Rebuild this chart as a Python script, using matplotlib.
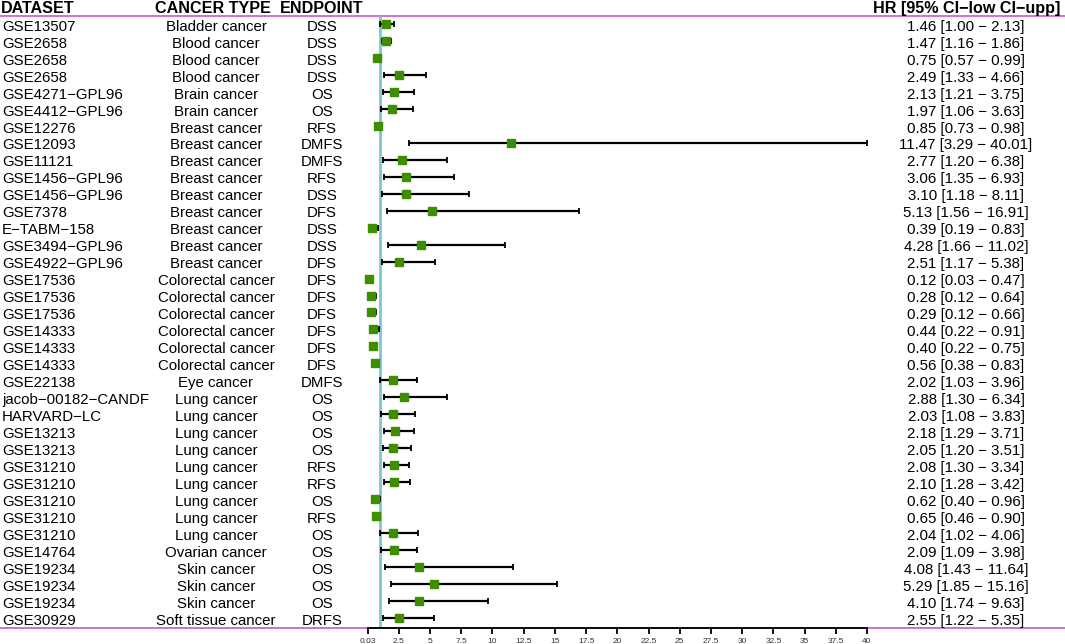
import numpy as np
import matplotlib
matplotlib.use("Agg")
import matplotlib.pyplot as plt
import matplotlib.transforms as mtransforms

plt.rcParams['font.family'] = ['Liberation Sans', 'DejaVu Sans']

# table columns
datasets = ["GSE13507", "GSE2658", "GSE2658", "GSE2658", "GSE4271−GPL96", "GSE4412−GPL96",
            "GSE12276", "GSE12093", "GSE11121", "GSE1456−GPL96", "GSE1456−GPL96", "GSE7378",
            "E−TABM−158", "GSE3494−GPL96", "GSE4922−GPL96", "GSE17536", "GSE17536", "GSE17536",
            "GSE14333", "GSE14333", "GSE14333", "GSE22138", "jacob−00182−CANDF", "HARVARD−LC",
            "GSE13213", "GSE13213", "GSE31210", "GSE31210", "GSE31210", "GSE31210", "GSE31210",
            "GSE14764", "GSE19234", "GSE19234", "GSE19234", "GSE30929"]
cancer_types = ["Bladder cancer"] + ["Blood cancer"] * 3 + ["Brain cancer"] * 2 + \
               ["Breast cancer"] * 9 + ["Colorectal cancer"] * 6 + ["Eye cancer"] + \
               ["Lung cancer"] * 9 + ["Ovarian cancer"] + ["Skin cancer"] * 3 + ["Soft tissue cancer"]
endpoints = ["DSS", "DSS", "DSS", "DSS", "OS", "OS", "RFS", "DMFS", "DMFS", "RFS", "DSS", "DFS",
             "DSS", "DSS", "DFS", "DFS", "DFS", "DFS", "DFS", "DFS", "DFS", "DMFS", "OS", "OS",
             "OS", "OS", "RFS", "RFS", "OS", "RFS", "OS", "OS", "OS", "OS", "OS", "DRFS"]

hr = np.array([1.46, 1.47, 0.75, 2.49, 2.13, 1.97, 0.85, 11.47, 2.77, 3.06, 3.10, 5.13,
               0.39, 4.28, 2.51, 0.12, 0.28, 0.29, 0.44, 0.40, 0.56, 2.02, 2.88, 2.03,
               2.18, 2.05, 2.08, 2.10, 0.62, 0.65, 2.04, 2.09, 4.08, 5.29, 4.10, 2.55])
ci_low = np.array([1.00, 1.16, 0.57, 1.33, 1.21, 1.06, 0.73, 3.29, 1.20, 1.35, 1.18, 1.56,
                   0.19, 1.66, 1.17, 0.03, 0.12, 0.12, 0.22, 0.22, 0.38, 1.03, 1.30, 1.08,
                   1.29, 1.20, 1.30, 1.28, 0.40, 0.46, 1.02, 1.09, 1.43, 1.85, 1.74, 1.22])
ci_upp = np.array([2.13, 1.86, 0.99, 4.66, 3.75, 3.63, 0.98, 40.01, 6.38, 6.93, 8.11, 16.91,
                   0.83, 11.02, 5.38, 0.47, 0.64, 0.66, 0.91, 0.75, 0.83, 3.96, 6.34, 3.83,
                   3.71, 3.51, 3.34, 3.42, 0.96, 0.90, 4.06, 3.98, 11.64, 15.16, 9.63, 5.35])

xticks = [0.03, 2.5, 5, 7.5, 10, 12.5, 15, 17.5, 20, 22.5, 25, 27.5, 30, 32.5, 35, 37.5, 40]
xticklabels = ["0.03", "2.5", "5", "7.5", "10", "12.5", "15", "17.5", "20", "22.5", "25",
               "27.5", "30", "32.5", "35", "37.5", "40"]

W, H = 1065, 644
fig = plt.figure(figsize=(W / 100, H / 100), dpi=100)
ax = fig.add_axes([0, 0, 1, 1])

# pixel layout: x=0.03 at 368px, x=40 at 867px; row 0 at 24px, 16.97px per row
px_per_unit = (867 - 368) / (40 - 0.03)
ax.set_xlim(0.03 - 368 / px_per_unit, 0.03 + (W - 368) / px_per_unit)
row_h = 16.97
ax.set_ylim((H - 24) / row_h, -24 / row_h)

rows = np.arange(len(hr))
top_line = -8 / row_h
bottom_line = rows[-1] + 10.5 / row_h

magenta = '#C868C8'
ax.axhline(top_line, color=magenta, lw=1.3, zorder=1)
ax.axhline(bottom_line, color=magenta, lw=1.3, zorder=1)
ax.vlines(1, top_line, bottom_line, color='#7AC8D4', lw=2, zorder=2)

ax.errorbar(hr, rows, xerr=[hr - ci_low, ci_upp - hr], fmt='s', color='#3E8E00',
            markersize=6, ecolor='black', elinewidth=1.6, capsize=2.4, capthick=1.3, zorder=3)

# x axis
for s in ['top', 'left', 'right']:
    ax.spines[s].set_visible(False)
ax.spines['bottom'].set_position(('data', bottom_line))
ax.spines['bottom'].set_bounds(0.03, 40)
ax.spines['bottom'].set_linewidth(1.3)
ax.spines['bottom'].set_zorder(4)
ax.set_xticks(xticks)
ax.set_xticklabels(xticklabels, fontsize=6, color='#333333')
ax.tick_params(axis='x', direction='out', length=4, width=1.3, pad=3)
ax.set_yticks([])
ax.patch.set_visible(False)

# text columns
tr = mtransforms.blended_transform_factory(fig.transFigure, ax.transData)
fs = 10.8
hfs = 11.6
base = 6.7 / row_h
head_y = -11 / row_h
ax.text(1 / W, head_y, "DATASET", transform=tr, ha='left', va='baseline', fontsize=hfs, fontweight='bold')
ax.text(213 / W, head_y, "CANCER TYPE", transform=tr, ha='center', va='baseline', fontsize=hfs, fontweight='bold')
ax.text(322 / W, head_y, "ENDPOINT", transform=tr, ha='center', va='baseline', fontsize=hfs, fontweight='bold')
ax.text(967 / W, head_y, "HR [95% CI−low CI−upp]", transform=tr, ha='center', va='baseline',
        fontsize=hfs, fontweight='bold')

for i in rows:
    y = i + base
    ax.text(2 / W, y, datasets[i], transform=tr, ha='left', va='baseline', fontsize=fs)
    ax.text(216 / W, y, cancer_types[i], transform=tr, ha='center', va='baseline', fontsize=fs)
    ax.text(322 / W, y, endpoints[i], transform=tr, ha='center', va='baseline', fontsize=fs)
    ax.text(966 / W, y, f"{hr[i]:.2f} [{ci_low[i]:.2f} − {ci_upp[i]:.2f}]", transform=tr,
            ha='center', va='baseline', fontsize=fs)

fig.savefig("out.png", dpi=100)
